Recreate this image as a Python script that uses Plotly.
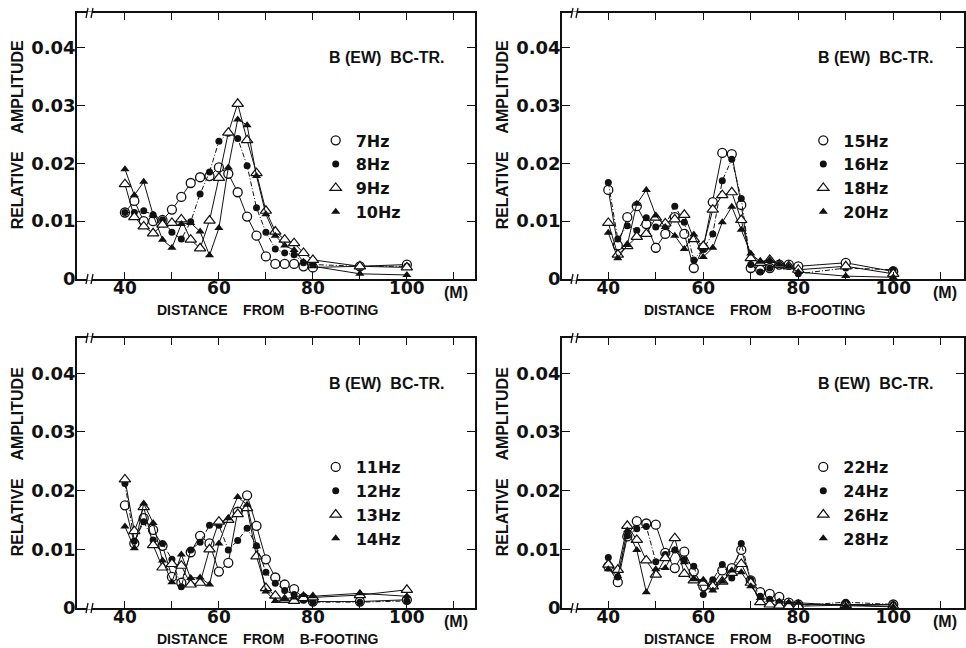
import plotly.graph_objects as go

# ---------------- data ----------------
DIST = [40, 42, 44, 46, 48, 50, 52, 54, 56, 58, 60, 62, 64, 66, 68, 70, 72, 74, 76, 78, 80, 90, 100]

# panel 1 (top-left)
HZ_7 = [0.0115, 0.0135, 0.0100, 0.0100, 0.0102, 0.0120, 0.0142, 0.0166, 0.0176, 0.0178, 0.0193, 0.0182,
        0.0150, 0.0108, 0.0075, 0.0039, 0.0026, 0.0026, 0.0026, 0.0022, 0.0020, 0.0022, 0.0025]
HZ_8 = [0.0115, 0.0115, 0.0118, 0.0111, 0.0102, 0.0081, 0.0069, 0.0099, 0.0147, 0.0185, 0.0238, 0.0252,
        0.0243, 0.0196, 0.0123, 0.0081, 0.0052, 0.0045, 0.0042, 0.0028, 0.0025, 0.0022, 0.0022]
HZ_9 = [0.0164, 0.0107, 0.0091, 0.0079, 0.0094, 0.0097, 0.0103, 0.0068, 0.0053, 0.0101, 0.0175, 0.0253,
        0.0303, 0.0240, 0.0183, 0.0118, 0.0082, 0.0068, 0.0062, 0.0045, 0.0033, 0.0022, 0.0020]
HZ_10 = [0.0190, 0.0145, 0.0168, 0.0111, 0.0068, 0.0054, 0.0095, 0.0097, 0.0082, 0.0041, 0.0088, 0.0193,
         0.0276, 0.0266, 0.0178, 0.0112, 0.0075, 0.0058, 0.0050, 0.0030, 0.0022, 0.0009, 0.0007]

# panel 2 (top-right)
HZ_15 = [0.0154, 0.0058, 0.0107, 0.0126, 0.0095, 0.0054, 0.0078, 0.0107, 0.0078, 0.0019, 0.0054, 0.0133,
         0.0218, 0.0216, 0.0128, 0.0019, 0.0016, 0.0019, 0.0025, 0.0025, 0.0022, 0.0028, 0.0013]
HZ_16 = [0.0167, 0.0069, 0.0092, 0.0084, 0.0106, 0.0090, 0.0093, 0.0126, 0.0098, 0.0033, 0.0052, 0.0078,
         0.0170, 0.0207, 0.0139, 0.0025, 0.0012, 0.0019, 0.0025, 0.0022, 0.0009, 0.0019, 0.0016]
HZ_18 = [0.0097, 0.0042, 0.0057, 0.0073, 0.0078, 0.0106, 0.0096, 0.0103, 0.0111, 0.0069, 0.0057, 0.0120,
         0.0145, 0.0150, 0.0102, 0.0036, 0.0028, 0.0033, 0.0025, 0.0022, 0.0016, 0.0022, 0.0009]
HZ_20 = [0.0080, 0.0036, 0.0059, 0.0130, 0.0154, 0.0110, 0.0090, 0.0075, 0.0052, 0.0077, 0.0038, 0.0054,
         0.0098, 0.0125, 0.0085, 0.0044, 0.0030, 0.0033, 0.0025, 0.0022, 0.0012, 0.0005, 0.0003]

# panel 3 (bottom-left)
HZ_11 = [0.0175, 0.0110, 0.0153, 0.0133, 0.0106, 0.0053, 0.0043, 0.0095, 0.0123, 0.0110, 0.0062, 0.0077,
         0.0164, 0.0192, 0.0140, 0.0083, 0.0052, 0.0040, 0.0032, 0.0017, 0.0011, 0.0011, 0.0014]
HZ_12 = [0.0212, 0.0114, 0.0147, 0.0116, 0.0110, 0.0083, 0.0036, 0.0099, 0.0112, 0.0141, 0.0141, 0.0099,
         0.0115, 0.0136, 0.0106, 0.0061, 0.0042, 0.0030, 0.0023, 0.0013, 0.0010, 0.0010, 0.0012]
HZ_13 = [0.0219, 0.0131, 0.0172, 0.0107, 0.0069, 0.0075, 0.0072, 0.0040, 0.0043, 0.0100, 0.0147, 0.0150,
         0.0160, 0.0170, 0.0088, 0.0034, 0.0021, 0.0014, 0.0012, 0.0017, 0.0018, 0.0022, 0.0031]
HZ_14 = [0.0139, 0.0102, 0.0178, 0.0145, 0.0081, 0.0044, 0.0091, 0.0051, 0.0052, 0.0040, 0.0110, 0.0153,
         0.0189, 0.0176, 0.0105, 0.0028, 0.0012, 0.0015, 0.0018, 0.0022, 0.0020, 0.0025, 0.0020]

# panel 4 (bottom-right)
HZ_22 = [0.0071, 0.0044, 0.0122, 0.0148, 0.0144, 0.0142, 0.0094, 0.0068, 0.0096, 0.0062, 0.0037, 0.0039,
         0.0064, 0.0068, 0.0099, 0.0047, 0.0027, 0.0024, 0.0019, 0.0009, 0.0006, 0.0006, 0.0006]
HZ_24 = [0.0086, 0.0053, 0.0123, 0.0135, 0.0139, 0.0079, 0.0091, 0.0099, 0.0082, 0.0071, 0.0023, 0.0048,
         0.0074, 0.0051, 0.0110, 0.0048, 0.0020, 0.0015, 0.0010, 0.0007, 0.0004, 0.0010, 0.0006]
HZ_26 = [0.0074, 0.0065, 0.0140, 0.0116, 0.0081, 0.0057, 0.0085, 0.0119, 0.0058, 0.0047, 0.0043, 0.0037,
         0.0045, 0.0060, 0.0075, 0.0043, 0.0010, 0.0006, 0.0004, 0.0003, 0.0003, 0.0005, 0.0003]
HZ_28 = [0.0066, 0.0054, 0.0132, 0.0099, 0.0027, 0.0066, 0.0068, 0.0099, 0.0078, 0.0049, 0.0048, 0.0030,
         0.0045, 0.0064, 0.0061, 0.0037, 0.0017, 0.0014, 0.0011, 0.0010, 0.0009, 0.0004, 0.0002]

PANEL_NAMES = [["7Hz", "8Hz", "9Hz", "10Hz"],
               ["15Hz", "16Hz", "18Hz", "20Hz"],
               ["11Hz", "12Hz", "13Hz", "14Hz"],
               ["22Hz", "24Hz", "26Hz", "28Hz"]]
PANEL_SERIES = [[HZ_7, HZ_8, HZ_9, HZ_10],
                [HZ_15, HZ_16, HZ_18, HZ_20],
                [HZ_11, HZ_12, HZ_13, HZ_14],
                [HZ_22, HZ_24, HZ_26, HZ_28]]

X_TICKS = [40, 50, 60, 70, 80, 90, 100, 110]
X_TICK_TEXT = ["40", "", "60", "", "80", "", "100", ""]
Y_TICKS = [0, 0.01, 0.02, 0.03, 0.04]
Y_TICK_TEXT = ["0", "0.01", "0.02", "0.03", "0.04"]

TITLE = "B (EW)\u00a0\u00a0BC-TR."
X_TITLE = "DISTANCE\u00a0\u00a0\u00a0\u00a0FROM\u00a0\u00a0\u00a0\u00a0B-FOOTING"
Y_TITLE = "RELATIVE\u00a0\u00a0\u00a0\u00a0AMPLITUDE"

# ---------------- styling ----------------
W, H = 966, 648
FONT = "Liberation Sans"
NUMFONT = "DejaVu Sans"
INK = "#111111"

# panel boxes in pixels: (left, right, top, bottom)
BOXES = [(77, 475, 13, 279), (562, 964, 13, 279), (77, 475, 338, 608), (562, 964, 338, 608)]
X_RANGES = [[29.8, 114.5], [30.25, 114.9], [29.8, 114.5], [30.25, 114.9]]
Y_RANGE = [0, 0.046]

MARKERS = [
    dict(symbol="circle", size=9, color="white", line=dict(color=INK, width=1.3)),
    dict(symbol="circle", size=7, color=INK, line=dict(color=INK, width=0)),
    dict(symbol="triangle-up", size=10, color="white", line=dict(color=INK, width=1.2)),
    dict(symbol="triangle-up", size=8, color=INK, line=dict(color=INK, width=0)),
]
DASHES = ["solid", "5px,2px,1px,2px", "solid", "solid"]

fig = go.Figure()
layout = dict(width=W, height=H, margin=dict(l=0, r=0, t=0, b=0, pad=0, autoexpand=False),
              paper_bgcolor="white", plot_bgcolor="white", showlegend=True,
              font=dict(family=FONT, color=INK))
annotations = []
shapes = []

for i, (names, series) in enumerate(zip(PANEL_NAMES, PANEL_SERIES)):
    k = "" if i == 0 else str(i + 1)
    xa, ya = "x" + k, "y" + k
    leg = "legend" + k
    L, R, T, B = BOXES[i]
    layout["xaxis" + k] = dict(
        domain=[L / W, R / W], range=X_RANGES[i], anchor=ya, automargin=False,
        showline=True, linecolor=INK, linewidth=1.6, mirror="ticks",
        ticks="inside", ticklen=7, tickwidth=1.4, tickcolor=INK,
        tickvals=X_TICKS, ticktext=X_TICK_TEXT, showgrid=False, zeroline=False,
        ticklabelstandoff=-7,
        tickfont=dict(family=NUMFONT, size=17, color=INK, weight="bold"))
    layout["yaxis" + k] = dict(
        domain=[1 - B / H, 1 - T / H], range=Y_RANGE, anchor=xa, automargin=False,
        showline=True, linecolor=INK, linewidth=1.6, mirror="ticks",
        ticks="inside", ticklen=8, tickwidth=1.4, tickcolor=INK,
        tickvals=Y_TICKS, ticktext=Y_TICK_TEXT, showgrid=False, zeroline=False,
        ticklabelstandoff=-4,
        tickfont=dict(family=NUMFONT, size=18, color=INK, weight="bold"))

    for j, (name, vals) in enumerate(zip(names, series)):
        fig.add_trace(go.Scatter(
            x=DIST, y=vals, mode="lines+markers", name=name, showlegend=False,
            xaxis=xa, yaxis=ya, marker=MARKERS[j],
            line=dict(color=INK, width=1.0, dash=DASHES[j])))
    for j, name in enumerate(names):
        fig.add_trace(go.Scatter(
            x=[None], y=[None], mode="markers", name=name, showlegend=True,
            xaxis=xa, yaxis=ya, marker=MARKERS[j], legend=leg))

    bw, bh = R - L, B - T
    layout[leg] = dict(
        x=(L + 0.645 * bw - 18) / W, y=1 - (T + 0.415 * bh) / H,
        xanchor="left", yanchor="top", bgcolor="rgba(0,0,0,0)",
        font=dict(family=NUMFONT, size=16, color=INK, weight="bold"),
        itemwidth=30, tracegroupgap=0)

    dom = dict(xref=xa + " domain", yref=ya + " domain")
    annotations.append(dict(text=TITLE, x=0.78, y=0.831, xanchor="center", yanchor="middle",
                            showarrow=False, font=dict(family=FONT, size=16, color=INK, weight="bold"), **dom))
    annotations.append(dict(text=X_TITLE, x=0.48, y=0, yshift=-31, xanchor="center", yanchor="middle",
                            showarrow=False, font=dict(family=FONT, size=14, color=INK, weight="bold"), **dom))
    annotations.append(dict(text="(M)", x=0.953, y=0, yshift=-13, xanchor="center", yanchor="middle",
                            showarrow=False, font=dict(family=FONT, size=16, color=INK, weight="bold"), **dom))
    annotations.append(dict(text=Y_TITLE, x=0, xshift=-60, y=0.54, xanchor="center", yanchor="middle",
                            textangle=-90, showarrow=False,
                            font=dict(family=FONT, size=16, color=INK, weight="bold"), **dom))

    # axis-break marks on bottom and top frame lines
    for yy in (0.0, 1.0):
        fx0 = 10.0 / bw
        fx1 = 15.0 / bw
        dy = 5.0 / bh
        shapes.append(dict(type="rect", xref=xa + " domain", yref=ya + " domain",
                           x0=fx0, x1=fx1, y0=yy - 1.5 / bh, y1=yy + 1.5 / bh,
                           fillcolor="white", line=dict(width=0), layer="above"))
        for fx in (fx0, fx1):
            shapes.append(dict(type="line", xref=xa + " domain", yref=ya + " domain",
                               x0=fx - 1.0 / bw, x1=fx + 1.0 / bw, y0=yy - dy, y1=yy + dy,
                               line=dict(color=INK, width=1.3), layer="above"))

layout["annotations"] = annotations
layout["shapes"] = shapes
fig.update_layout(**layout)
fig.write_html("out.html", config={"displayModeBar": False},
               post_script="document.body.style.margin='0';document.body.style.overflow='hidden';")
